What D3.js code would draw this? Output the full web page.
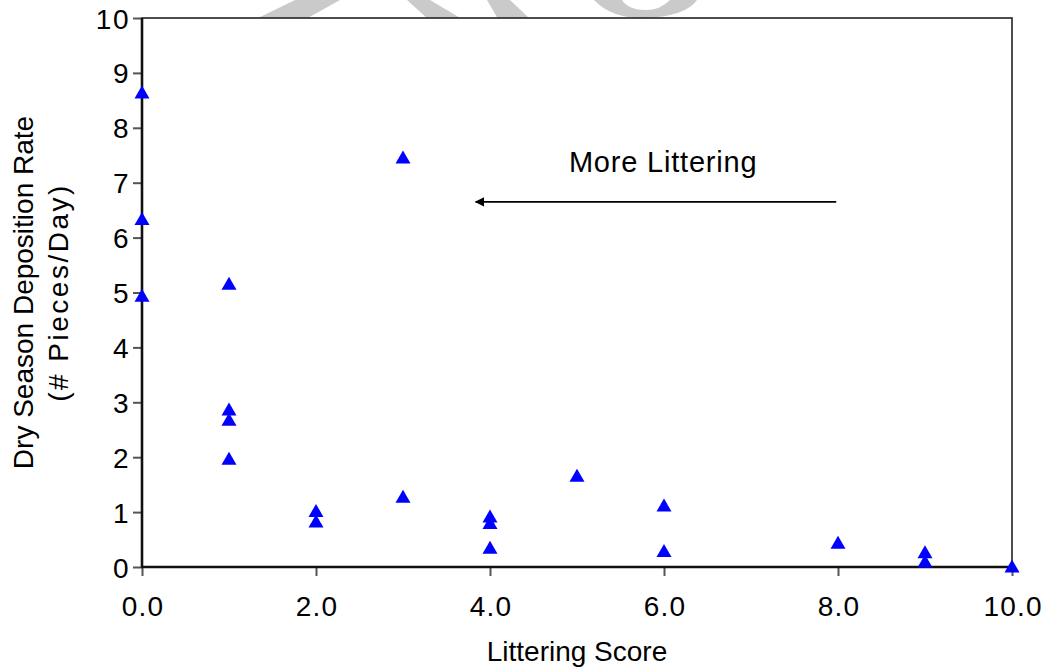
<!DOCTYPE html>
<html>
<head>
<meta charset="utf-8">
<script src="https://cdn.jsdelivr.net/npm/d3@7"></script>
<style>
  html, body { margin: 0; padding: 0; background: #fff; }
  svg { display: block; }
  text { font-family: Arial, "Liberation Sans", sans-serif; fill: #000; }
</style>
</head>
<body>
<svg id="chart" width="1043" height="668"></svg>
<script>
// ---- Data ----
const littering = [0, 0, 0, 1, 1, 1, 1, 2, 2, 3, 3, 4, 4, 4, 5, 6, 6, 8, 9, 9, 10];
const deposition = [8.65, 6.35, 4.95, 5.17, 2.88, 2.69, 1.98, 1.03, 0.84, 7.47, 1.29, 0.93, 0.81, 0.36, 1.67, 1.13, 0.30, 0.45, 0.28, 0.11, 0.02];
const xTicks = [0, 2, 4, 6, 8, 10];
const yTicks = [0, 1, 2, 3, 4, 5, 6, 7, 8, 9, 10];
const xTitle = "Littering Score";
const yTitle = ["Dry Season Deposition Rate", "(# Pieces/Day)"];
const annotationText = "More Littering";
const annotationTextPos = { x: 5.99, y: 7.19 };
const arrowFrom = { x: 7.98, y: 6.65 };
const arrowTo = { x: 3.80, y: 6.65 };

const points = littering.map((v, i) => ({ x: v, y: deposition[i] }));

// ---- Layout ----
const W = 1043, H = 668;
const plot = { left: 142, right: 1012, top: 18, bottom: 567 };
const FONT = 'Arial, "Liberation Sans", sans-serif';

const svg = d3.select("#chart");

const x = d3.scaleLinear().domain([0, 10]).range([plot.left, plot.right]);
const y = d3.scaleLinear().domain([0, 10]).range([plot.bottom, plot.top]);

// ---- Watermark fragments (decoration, visible above the plot) ----
const wm = svg.append("g").attr("fill", "#cacaca");
wm.append("path").attr("d", "M256,19 L306,19 L340,0 L295,0 Z");
wm.append("path").attr("d", "M407,0 L430,0 L462,19 L428,19 Z");
wm.append("path").attr("d", "M487,0 L510,0 L530,19 L498,19 Z");
wm.append("path").attr("d", "M594,0 Q612,19 646,18 Q686,16 697,0 L670,0 Q660,10 646,10 Q628,10 622,0 Z");

// ---- Plot area background ----
svg.append("rect")
  .attr("x", plot.left).attr("y", plot.top)
  .attr("width", plot.right - plot.left).attr("height", plot.bottom - plot.top)
  .attr("fill", "#fff").attr("stroke", "#222").attr("stroke-width", 1.6);

// ---- Axes ----
const yAxis = d3.axisLeft(y).tickValues(yTicks).tickSize(9).tickPadding(3).tickFormat(d3.format("d"));
const gy = svg.append("g").attr("transform", `translate(${plot.left},0)`).call(yAxis);
gy.select(".domain").remove();
gy.selectAll(".tick line").attr("stroke", "#555").attr("stroke-width", 2);
gy.selectAll(".tick text").attr("font-size", 28).attr("fill", "#000")
  .attr("letter-spacing", 1.5)
  .attr("font-family", FONT).attr("dy", "0.36em");

const xAxis = d3.axisBottom(x).tickValues(xTicks).tickSize(9).tickPadding(20).tickFormat(d3.format(".1f"));
const gx = svg.append("g").attr("transform", `translate(0,${plot.bottom})`).call(xAxis);
gx.select(".domain").remove();
gx.selectAll(".tick line").attr("stroke", "#555").attr("stroke-width", 2);
gx.selectAll(".tick text").attr("font-size", 28).attr("fill", "#000")
  .attr("letter-spacing", 1.2).attr("dx", "0.6")
  .attr("font-family", FONT).attr("dy", "0.71em");

// axis lines
svg.append("line").attr("x1", plot.left).attr("x2", plot.left)
  .attr("y1", plot.top).attr("y2", plot.bottom + 1)
  .attr("stroke", "#111").attr("stroke-width", 2.6);
svg.append("line").attr("x1", plot.left - 1).attr("x2", plot.right)
  .attr("y1", plot.bottom).attr("y2", plot.bottom)
  .attr("stroke", "#111").attr("stroke-width", 2.6);

// ---- Titles ----
svg.append("text")
  .attr("x", (plot.left + plot.right) / 2).attr("y", 661)
  .attr("text-anchor", "middle").attr("font-size", 28)
  .text(xTitle);

const yt = svg.append("text")
  .attr("transform", `translate(0,${(plot.top + plot.bottom) / 2}) rotate(-90)`)
  .attr("text-anchor", "middle").attr("font-size", 28);
yt.append("tspan").attr("x", 0).attr("y", 33).text(yTitle[0]);
yt.append("tspan").attr("x", 0).attr("y", 68).attr("letter-spacing", 2.5).text(yTitle[1]);

// ---- Annotation ----
svg.append("text")
  .attr("x", x(annotationTextPos.x)).attr("y", y(annotationTextPos.y))
  .attr("text-anchor", "middle").attr("font-size", 29).attr("letter-spacing", 0.8)
  .text(annotationText);

const defs = svg.append("defs");
defs.append("marker")
  .attr("id", "arrowhead").attr("viewBox", "0 0 10 10")
  .attr("refX", 1).attr("refY", 5)
  .attr("markerWidth", 6).attr("markerHeight", 6)
  .attr("markerUnits", "strokeWidth")
  .attr("orient", "0")
  .append("path").attr("d", "M0,5 L10,0 L10,10 Z").attr("fill", "#000");

svg.append("line")
  .attr("x1", x(arrowFrom.x)).attr("y1", y(arrowFrom.y))
  .attr("x2", x(arrowTo.x) + 3).attr("y2", y(arrowTo.y))
  .attr("stroke", "#000").attr("stroke-width", 1.6)
  .attr("marker-end", "url(#arrowhead)");

// ---- Points ----
const triW = 15, triH = 13;
const tri = `M0,${-triH / 2} L${triW / 2},${triH / 2} L${-triW / 2},${triH / 2} Z`;
svg.append("g").selectAll("path")
  .data(points)
  .join("path")
  .attr("transform", d => `translate(${x(d.x)},${y(d.y)})`)
  .attr("d", tri)
  .attr("fill", "#0000ff");
</script>
</body>
</html>
